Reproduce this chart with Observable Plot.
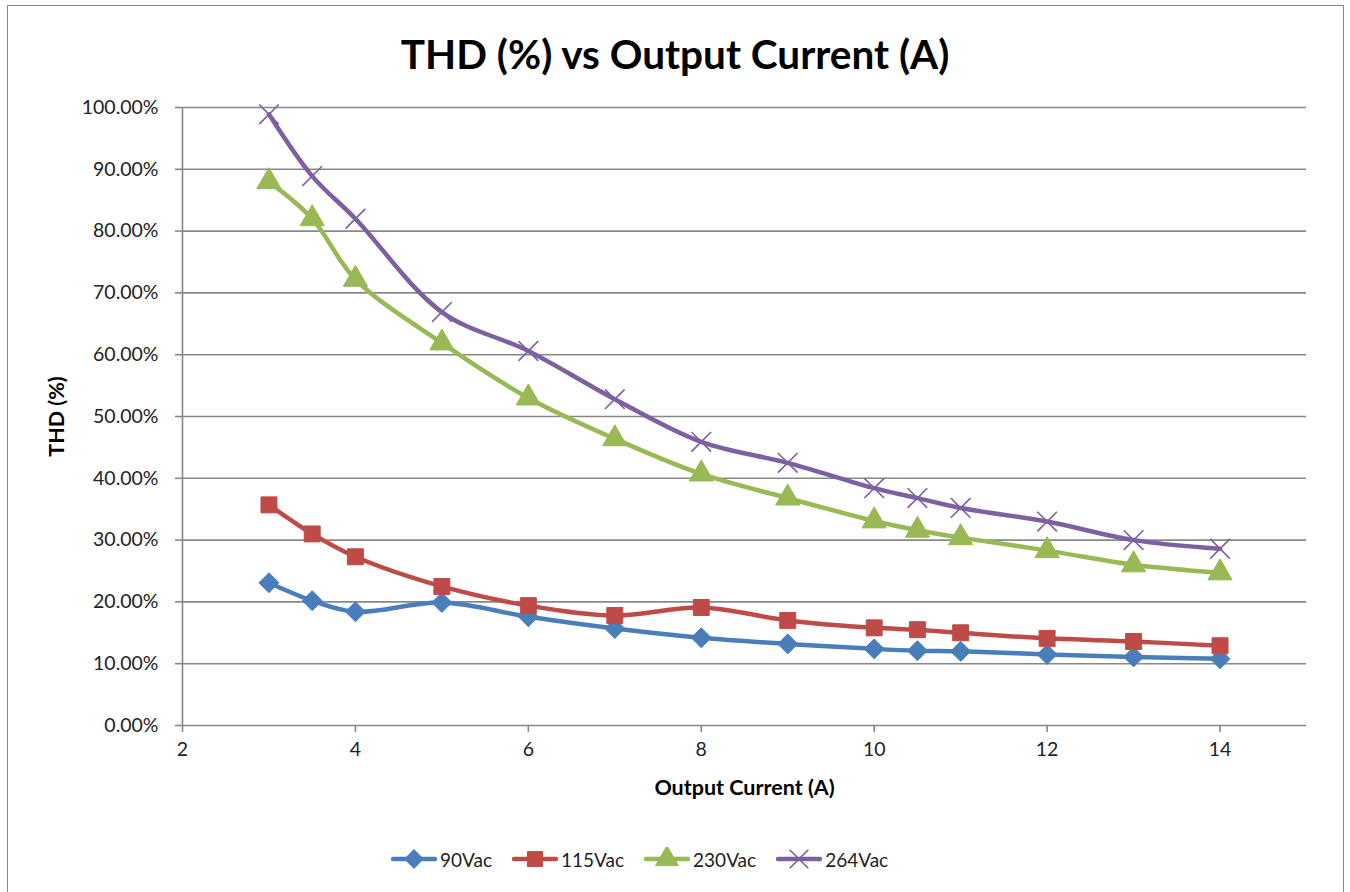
<!DOCTYPE html>
<html>
<head>
<meta charset="utf-8">
<script src="https://cdn.jsdelivr.net/npm/d3@7"></script>
<script src="https://cdn.jsdelivr.net/npm/@observablehq/plot@0.6"></script>
<style>
  html, body { margin: 0; padding: 0; background: #fff; }
  body { width: 1350px; height: 892px; position: relative; overflow: hidden; font-family: Lato, "Open Sans", sans-serif; }
  #frame { position: absolute; left: 7px; top: 5px; width: 1337px; height: 900px; border: 1.5px solid #888; box-sizing: border-box; }
  #title { position: absolute; left: 0; width: 1350px; top: 28px; text-align: center; font-weight: bold; font-size: 40.5px; color: #000; line-height: 52px; }
  #chart { position: absolute; left: 0; top: 90px; }
  #legend { position: absolute; left: 391px; top: 845px; height: 28px; display: flex; justify-content: flex-start; align-items: center; gap: 20px; font-size: 19px; color: #222; white-space: nowrap; }
  .item { display: flex; align-items: center; gap: 3px; }
</style>
</head>
<body>
<div id="frame"></div>
<div id="title">THD (%) vs Output Current (A)</div>
<div id="chart"></div>
<div id="legend"></div>
<script>
// ---- data ----
const current = [3, 3.5, 4, 5, 6, 7, 8, 9, 10, 10.5, 11, 12, 13, 14];
const thd90  = [23.1, 20.2, 18.4, 19.9, 17.6, 15.7, 14.2, 13.2, 12.4, 12.1, 12.0, 11.5, 11.1, 10.8];
const thd115 = [35.7, 31.0, 27.3, 22.5, 19.4, 17.8, 19.1, 17.0, 15.8, 15.5, 15.0, 14.1, 13.6, 12.9];
const thd230 = [88.0, 82.0, 72.2, 61.9, 53.0, 46.4, 40.7, 36.8, 33.1, 31.6, 30.4, 28.3, 26.0, 24.7];
const thd264 = [98.9, 88.9, 82.0, 66.9, 60.6, 52.8, 45.9, 42.5, 38.4, 36.8, 35.2, 33.0, 30.0, 28.6];
const seriesNames = ["90Vac", "115Vac", "230Vac", "264Vac"];
const seriesValues = [thd90, thd115, thd230, thd264];
const seriesColors = ["#4A7EBB", "#BE4B48", "#98B954", "#7D60A0"];
const seriesSymbols = ["diamond2", "square", "triangle", "times"];
const xTicks = [2, 4, 6, 8, 10, 12, 14];
const yTicks = [0, 10, 20, 30, 40, 50, 60, 70, 80, 90, 100];

const rows = [];
seriesNames.forEach((s, i) => current.forEach((c, j) => rows.push({series: s, x: c, y: seriesValues[i][j] / 100})));

const colorScale = {domain: seriesNames, range: seriesColors};
const symbolScale = {domain: seriesNames, range: seriesSymbols};

const W = 1350, H = 730;
const plot = Plot.plot({
  width: W, height: H,
  marginLeft: 182, marginRight: 44, marginTop: 17, marginBottom: 95,
  style: {fontFamily: "Lato, 'Open Sans', sans-serif", color: "#222", background: "transparent", overflow: "visible"},
  x: {domain: [2, 15]},
  y: {domain: [0, 1]},
  color: colorScale,
  symbol: symbolScale,
  marks: [
    Plot.ruleY(yTicks.map(d => d / 100), {stroke: "#888", strokeWidth: 1.6}),
    Plot.ruleX([2], {stroke: "#888", strokeWidth: 1.6}),
    Plot.axisY(yTicks.map(d => d / 100), {tickFormat: d => (d * 100).toFixed(2) + "%", tickSize: 7, tickPadding: 17, fontSize: 19.5, stroke: "#888", strokeWidth: 1.6, label: null}),
    Plot.axisX(xTicks, {tickSize: 7, tickPadding: 10, fontSize: 19.5, stroke: "#888", strokeWidth: 1.6, label: null}),
    Plot.line(rows, {x: "x", y: "y", z: "series", stroke: "series", strokeWidth: 4.5, curve: "catmull-rom"}),
    Plot.dot(rows.filter(d => d.series !== "264Vac"), {x: "x", y: "y", symbol: "series", fill: "series", stroke: "series", strokeWidth: 1, r: 9}),
    Plot.dot(rows.filter(d => d.series === "264Vac"), {x: "x", y: "y", symbol: "series", stroke: "series", strokeWidth: 1.6, r: 9}),
    Plot.text(["Output Current (A)"], {frameAnchor: "bottom", dy: 69, fontWeight: "bold", fontSize: 21.5, fill: "#000"}),
    Plot.text(["THD (%)"], {frameAnchor: "left", dx: -125, rotate: -90, textAnchor: "middle", fontWeight: "bold", fontSize: 21.5, fill: "#000"})
  ]
});
document.getElementById("chart").appendChild(plot);

// ---- legend ----
const legend = document.getElementById("legend");
seriesNames.forEach((s, i) => {
  const item = document.createElement("div");
  item.className = "item";
  const svg = d3.create("svg").attr("width", 46).attr("height", 24);
  svg.append("line").attr("x1", 2).attr("x2", 44).attr("y1", 12).attr("y2", 12)
    .attr("stroke", seriesColors[i]).attr("stroke-width", 4.5).attr("stroke-linecap", "round");
  const symType = {diamond2: d3.symbolDiamond2, square: d3.symbolSquare, triangle: d3.symbolTriangle, times: d3.symbolTimes}[seriesSymbols[i]];
  const isStroke = seriesSymbols[i] === "times";
  svg.append("path").attr("transform", "translate(23,12)")
    .attr("d", d3.symbol(symType, Math.PI * 8.5 * 8.5)())
    .attr("fill", isStroke ? "none" : seriesColors[i])
    .attr("stroke", seriesColors[i]).attr("stroke-width", isStroke ? 1.6 : 1);
  item.appendChild(svg.node());
  const t = document.createElement("span");
  t.textContent = s;
  item.appendChild(t);
  legend.appendChild(item);
});
</script>
</body>
</html>
